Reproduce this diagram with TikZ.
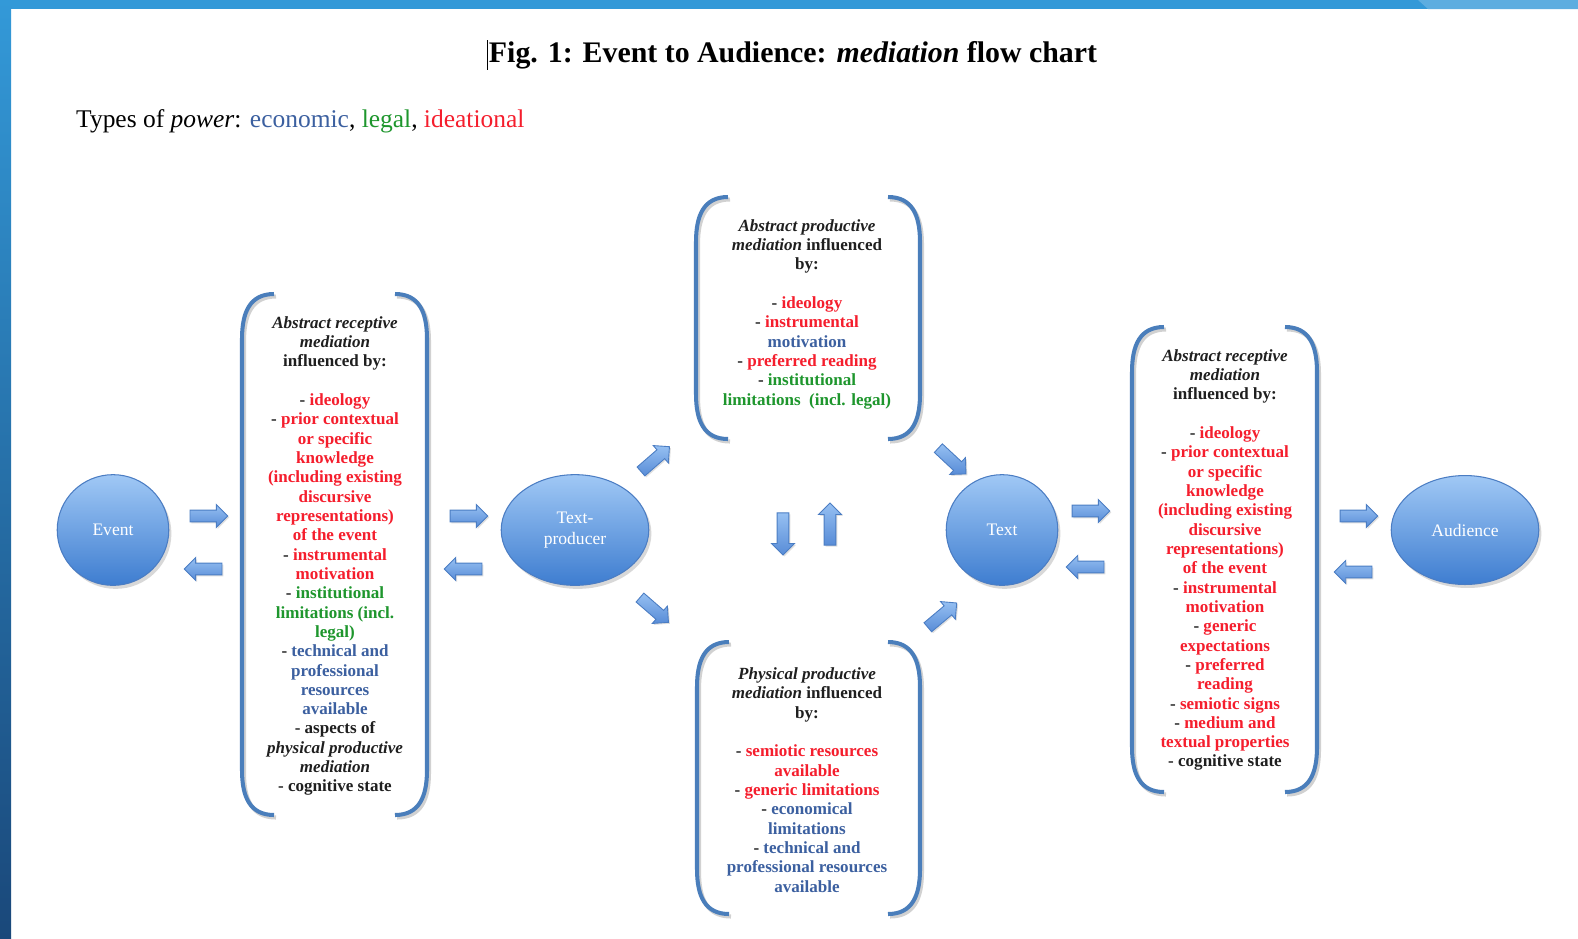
\documentclass[tikz,border=0pt]{standalone}
\usepackage{fontspec}
\setmainfont{Liberation Serif}
\usetikzlibrary{shapes.geometric,shapes.arrows,shadows,calc}
\definecolor{barblue}{RGB}{51,153,216}
\definecolor{barlight}{RGB}{93,173,224}
\definecolor{bardark}{RGB}{26,72,122}
\definecolor{brk}{RGB}{74,126,187}
\definecolor{econ}{RGB}{60,96,160}
\definecolor{legalc}{RGB}{30,150,45}
\definecolor{ideac}{RGB}{245,30,45}
\definecolor{elltop}{RGB}{160,200,245}
\definecolor{ellbot}{RGB}{62,125,208}
\definecolor{ellline}{RGB}{75,125,195}
\definecolor{arrtop}{RGB}{150,192,242}
\definecolor{arrbot}{RGB}{88,140,215}
\newcommand\Eco[1]{\textcolor{econ}{#1}}
\newcommand\Leg[1]{\textcolor{legalc}{#1}}
\newcommand\Ide[1]{\textcolor{ideac}{#1}}
\newcommand\shaftstrut{\rule{0pt}{6.2pt}}
\newcommand\bracketpath[5]{%
 \draw[#1] (#2+32,#4) .. controls (#2+8,#4) and (#2,#4+18) .. (#2,#4+45) -- (#2,#5-45) .. controls (#2,#5-18) and (#2+8,#5) .. (#2+32,#5);
 \draw[#1] (#3-32,#4) .. controls (#3-8,#4) and (#3,#4+18) .. (#3,#4+45) -- (#3,#5-45) .. controls (#3,#5-18) and (#3-8,#5) .. (#3-32,#5);}
\newcommand\bracketpair[4]{%
 \begin{scope}[shift={(2,2.5)}]\bracketpath{bracketshadow}{#1}{#2}{#3}{#4}\end{scope}
 \bracketpath{bracketline}{#1}{#2}{#3}{#4}}
\tikzset{
 ell/.style={ellipse, draw=ellline, line width=0.6pt, top color=elltop, bottom color=ellbot,
   text=white, font=\fontsize{10}{11.5}\selectfont, align=center, inner sep=0pt,
   drop shadow={opacity=0.3, shadow xshift=1.5pt, shadow yshift=-2pt}},
 blockarrow/.style={single arrow, draw=ellline, line width=0.5pt, top color=arrtop, bottom color=arrbot,
   minimum height=21.5pt, single arrow head extend=3.2pt, inner sep=0pt,
   drop shadow={opacity=0.25, shadow xshift=0.8pt, shadow yshift=-0.8pt}},
 boxtext/.style={align=center, inner sep=0pt, text=black!88, font=\fontsize{9.7}{11}\selectfont\bfseries},
 bracketline/.style={draw=brk, line width=2.3pt},
 bracketshadow/.style={draw=black, line width=2.3pt, opacity=0.18},
}
\begin{document}
\begin{tikzpicture}[x=0.02cm,y=-0.02cm]
\useasboundingbox (0,0) rectangle (1578,938);
\fill[white] (0,0) rectangle (1578,938);
% frame
\fill[barblue] (0,0) rectangle (1578,9);
\fill[barlight] (1418,0) -- (1578,0) -- (1578,9) -- (1428,9) -- cycle;
\shade[top color=barblue, bottom color=bardark] (0,0) rectangle (11,938);

% title and legend
\node[font=\fontsize{17}{20}\selectfont\bfseries] (title) at (793,55) {Fig. 1: Event to Audience: \textit{mediation} flow chart};
\draw[line width=0.6pt] ($(title.west)+(5,-15)$) -- ($(title.west)+(5,15)$);
\node[anchor=base west, font=\fontsize{14.5}{17}\selectfont] (legend) at (70,127)
  {Types of \textit{power}: \Eco{economic}, \Leg{legal}, \Ide{ideational}};

% ellipses
\node[ell, minimum width=63.5pt, minimum height=63pt] (event) at (113,530) {Event};
\node[ell, minimum width=84pt, minimum height=63pt] (tp) at (575,530) {Text-\\producer};
\node[ell, minimum width=63.5pt, minimum height=63pt] (text) at (1002,530) {Text};
\node[ell, minimum width=84pt, minimum height=62pt] (aud) at (1465,530) {Audience};

% box texts
\node[boxtext] (lt) at (335,556) {\textit{Abstract receptive}\\ \textit{mediation}\\ influenced by:\\[11pt]
 - \Ide{ideology}\\ - \Ide{prior contextual}\\ \Ide{or specific}\\ \Ide{knowledge}\\ \Ide{(including existing}\\
 \Ide{discursive}\\ \Ide{representations)}\\ \Ide{of the event}\\ - \Ide{instrumental}\\ \Ide{motivation}\\
 - \Leg{institutional}\\ \Leg{limitations (incl.}\\ \Leg{legal)}\\ - \Eco{technical and}\\ \Eco{professional}\\
 \Eco{resources}\\ \Eco{available}\\ - aspects of\\ \textit{physical productive}\\ \textit{mediation}\\ - cognitive state};
\node[boxtext] (tt) at (807,314) {\textit{Abstract productive}\\ \textit{mediation} influenced\\ by:\\[11pt]
 - \Ide{ideology}\\ - \Ide{instrumental}\\ \Eco{motivation}\\ - \Ide{preferred reading}\\ - \Leg{institutional}\\
 \Leg{limitations\ \ (incl. legal)}};
\node[boxtext] (bt) at (807,780) {\textit{Physical productive}\\ \textit{mediation} influenced\\ by:\\[11pt]
 - \Ide{semiotic resources}\\ \Ide{available}\\ - \Ide{generic limitations}\\ - \Eco{economical}\\ \Eco{limitations}\\
 - \Eco{technical and}\\ \Eco{professional resources}\\ \Eco{available}};
\node[boxtext] (rt) at (1225,560) {\textit{Abstract receptive}\\ \textit{mediation}\\ influenced by:\\[11pt]
 - \Ide{ideology}\\ - \Ide{prior contextual}\\ \Ide{or specific}\\ \Ide{knowledge}\\ \Ide{(including existing}\\
 \Ide{discursive}\\ \Ide{representations)}\\ \Ide{of the event}\\ - \Ide{instrumental}\\ \Ide{motivation}\\
 - \Ide{generic}\\ \Ide{expectations}\\ - \Ide{preferred}\\ \Ide{reading}\\ - \Ide{semiotic signs}\\
 - \Ide{medium and}\\ \Ide{textual properties}\\ - cognitive state};

% brackets
\bracketpair{242}{427}{294}{815}
\bracketpair{696}{920}{197}{439}
\bracketpair{697}{920}{642}{914}
\bracketpair{1132}{1317}{327}{792}

% block arrows
\node[blockarrow] (a1) at (206,516) {\shaftstrut};
\node[blockarrow, rotate=180] (a2) at (206,569) {\shaftstrut};
\node[blockarrow] (a3) at (466,516) {\shaftstrut};
\node[blockarrow, rotate=180] (a4) at (466,569) {\shaftstrut};
\node[blockarrow, rotate=41] (a5) at (653,461) {\shaftstrut};
\node[blockarrow, rotate=-41] (a6) at (652,608) {\shaftstrut};
\node[blockarrow, rotate=-43] (a7) at (950,459) {\shaftstrut};
\node[blockarrow, rotate=40] (a8) at (940,617) {\shaftstrut};
\node[blockarrow, rotate=-90, minimum height=24pt] (a9) at (783,531) {\shaftstrut};
\node[blockarrow, rotate=90, minimum height=24pt] (a10) at (830,527) {\shaftstrut};
\node[blockarrow] (a11) at (1088,511) {\shaftstrut};
\node[blockarrow, rotate=180] (a12) at (1088,567) {\shaftstrut};
\node[blockarrow] (a13) at (1356,516) {\shaftstrut};
\node[blockarrow, rotate=180] (a14) at (1356,572) {\shaftstrut};
\end{tikzpicture}
\end{document}
